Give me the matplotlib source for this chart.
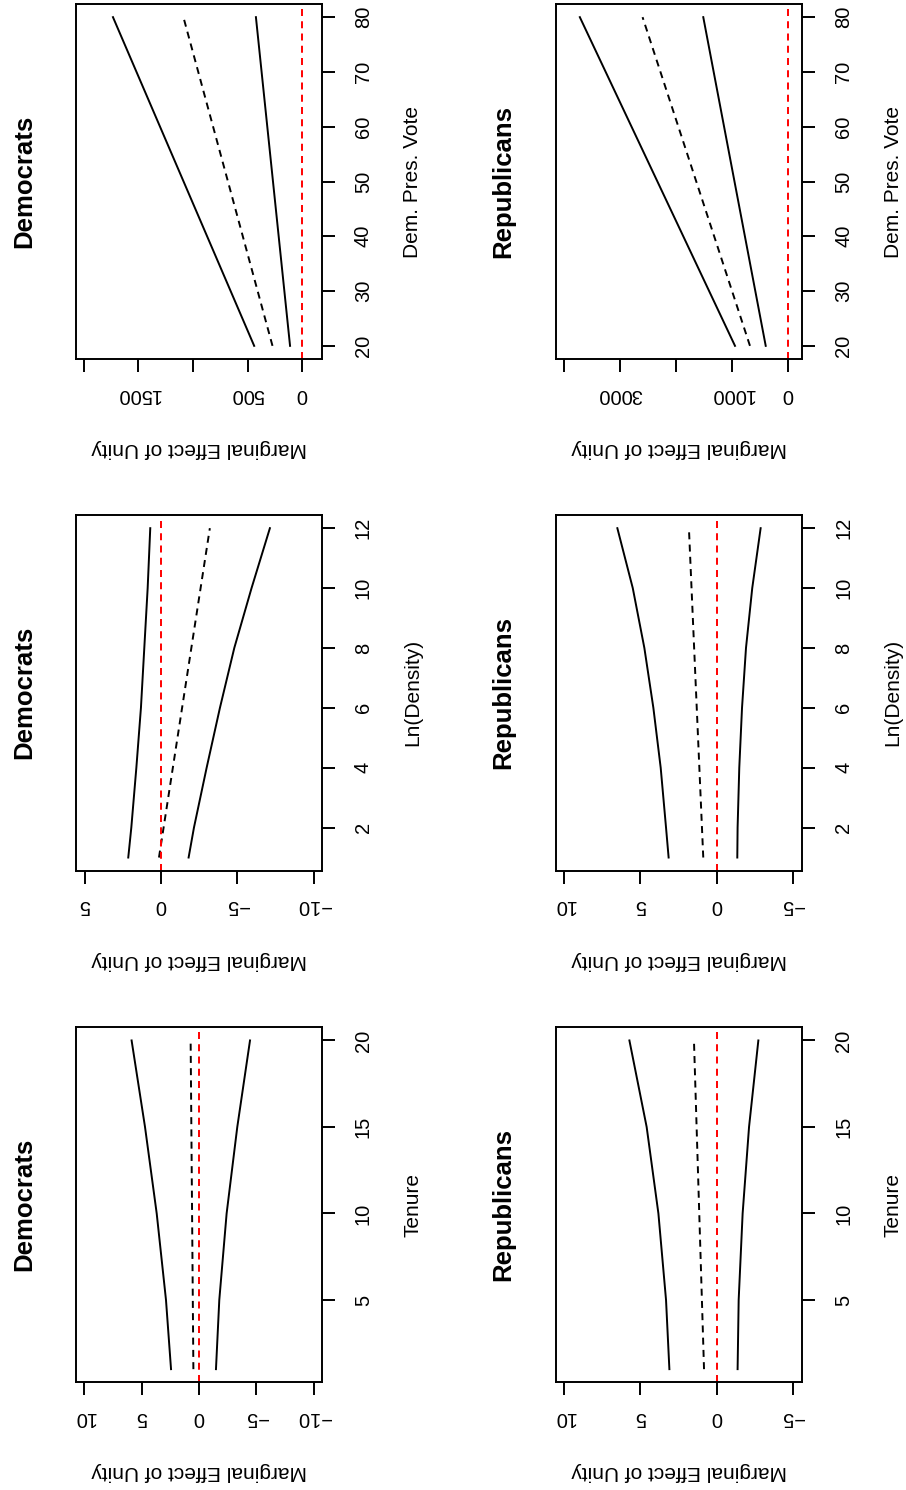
import numpy as np
import matplotlib
matplotlib.use("Agg")
import matplotlib.pyplot as plt

plt.rcParams['font.family'] = ['Liberation Sans', 'DejaVu Sans']

# moderator values (vertical axis once the page is turned)
vote = [20, 80]
density = [1, 2, 4, 6, 8, 10, 12]
density_est = [1, 12]
tenure = [1, 5, 10, 15, 20]
tenure_est = [1, 20]

# Democrats: upper bound, estimate, lower bound of marginal effect
dem_vote_hi = [439, 1734]
dem_vote_est = [271, 1088]
dem_vote_lo = [110, 423]

dem_dens_hi = [2.14, 1.94, 1.61, 1.31, 1.09, 0.87, 0.70]
dem_dens_est = [0.13, -3.20]
dem_dens_lo = [-1.81, -2.16, -2.99, -3.86, -4.80, -5.93, -7.13]

dem_ten_hi = [2.44, 2.88, 3.69, 4.71, 5.88]
dem_ten_est = [0.49, 0.73]
dem_ten_lo = [-1.48, -1.77, -2.41, -3.34, -4.45]

# Republicans
rep_vote_hi = [944, 3722]
rep_vote_est = [676, 2599]
rep_vote_lo = [394, 1512]

rep_dens_hi = [3.15, 3.32, 3.67, 4.15, 4.74, 5.50, 6.51]
rep_dens_est = [0.88, 1.82]
rep_dens_lo = [-1.35, -1.37, -1.48, -1.66, -1.92, -2.33, -2.88]

rep_ten_hi = [3.10, 3.32, 3.82, 4.59, 5.72]
rep_ten_est = [0.83, 1.49]
rep_ten_lo = [-1.37, -1.44, -1.70, -2.12, -2.73]

# effect axis ticks and labels
vote_dem_ticks = [0, 500, 1000, 1500, 2000]
vote_dem_labels = ['0', '500', '', '1500', '']
vote_rep_ticks = [0, 1000, 2000, 3000, 4000]
vote_rep_labels = ['0', '1000', '', '3000', '']
dens_dem_ticks = [5, 0, -5, -10]
dens_dem_labels = ['5', '0', '\u22125', '\u221210']
ten_dem_ticks = [10, 5, 0, -5, -10]
ten_dem_labels = ['10', '5', '0', '\u22125', '\u221210']
rep_small_ticks = [10, 5, 0, -5]
rep_small_labels = ['10', '5', '0', '\u22125']

vote_ticks = [20, 30, 40, 50, 60, 70, 80]
dens_ticks = [2, 4, 6, 8, 10, 12]
ten_ticks = [5, 10, 15, 20]

fig = plt.figure(figsize=(9.06, 14.9), dpi=100)

W, H = 906, 1490
cols = [(76, 322), (555.7, 802.3)]
rows = [(4, 359), (515, 870.7), (1027.3, 1382.3)]
DASH = (3.6, 2.7)

def make_ax(r, c):
    x0, x1 = cols[c]
    y0, y1 = rows[r]
    return fig.add_axes([x0 / W, 1 - y1 / H, (x1 - x0) / W, (y1 - y0) / H])

def panel(ax, mod, hi, mod_est, est, lo, eff_lim, mod_lim,
          eff_ticks, eff_labels, mod_ticks, title, xlabel):
    ax.plot(hi, mod, color='black', lw=1.4)
    ax.plot(est, mod_est, color='black', lw=1.4, dashes=DASH)
    ax.plot(lo, mod, color='black', lw=1.4)
    ax.axvline(0, color='red', lw=1.4, dashes=DASH)
    ax.set_xlim(eff_lim)
    ax.set_ylim(mod_lim)

    for s in ax.spines.values():
        s.set_linewidth(1.4)
    ax.yaxis.tick_right()
    ax.set_xticks(eff_ticks)
    ax.set_xticklabels(eff_labels, rotation=180)
    ax.set_yticks(mod_ticks)
    ax.set_yticklabels([str(t) for t in mod_ticks], rotation=90, va='center')
    ax.tick_params(axis='x', direction='out', length=9.4, width=1.4,
                   labelsize=14.5, pad=9)
    ax.tick_params(axis='y', direction='out', length=9.4, width=1.4,
                   labelsize=14.5, pad=13.5)

    ax.text(-0.212, 0.5, title, transform=ax.transAxes, rotation=90,
            ha='center', va='center', fontsize=18.5, fontweight='bold')
    ax.text(1.368, 0.5, xlabel, transform=ax.transAxes, rotation=90,
            ha='center', va='center', fontsize=15)
    ax.text(0.5, -0.252, 'Marginal Effect of Unity', transform=ax.transAxes,
            rotation=180, ha='center', va='center', fontsize=15)

# Democrats column
panel(make_ax(0, 0), vote, dem_vote_hi, vote, dem_vote_est, dem_vote_lo,
      (2073, -183), (17.6, 82.4), vote_dem_ticks, vote_dem_labels,
      vote_ticks, 'Democrats', 'Dem. Pres. Vote')
panel(make_ax(1, 0), density, dem_dens_hi, density_est, dem_dens_est, dem_dens_lo,
      (5.56, -10.54), (0.56, 12.44), dens_dem_ticks, dens_dem_labels,
      dens_ticks, 'Democrats', 'Ln(Density)')
panel(make_ax(2, 0), tenure, dem_ten_hi, tenure_est, dem_ten_est, dem_ten_lo,
      (10.73, -10.73), (0.24, 20.76), ten_dem_ticks, ten_dem_labels,
      ten_ticks, 'Democrats', 'Tenure')

# Republicans column
panel(make_ax(0, 1), vote, rep_vote_hi, vote, rep_vote_est, rep_vote_lo,
      (4154, -261), (17.6, 82.4), vote_rep_ticks, vote_rep_labels,
      vote_ticks, 'Republicans', 'Dem. Pres. Vote')
panel(make_ax(1, 1), density, rep_dens_hi, density_est, rep_dens_est, rep_dens_lo,
      (10.55, -5.61), (0.56, 12.44), rep_small_ticks, rep_small_labels,
      dens_ticks, 'Republicans', 'Ln(Density)')
panel(make_ax(2, 1), tenure, rep_ten_hi, tenure_est, rep_ten_est, rep_ten_lo,
      (10.55, -5.61), (0.24, 20.76), rep_small_ticks, rep_small_labels,
      ten_ticks, 'Republicans', 'Tenure')

fig.savefig('out.png', dpi=100)
